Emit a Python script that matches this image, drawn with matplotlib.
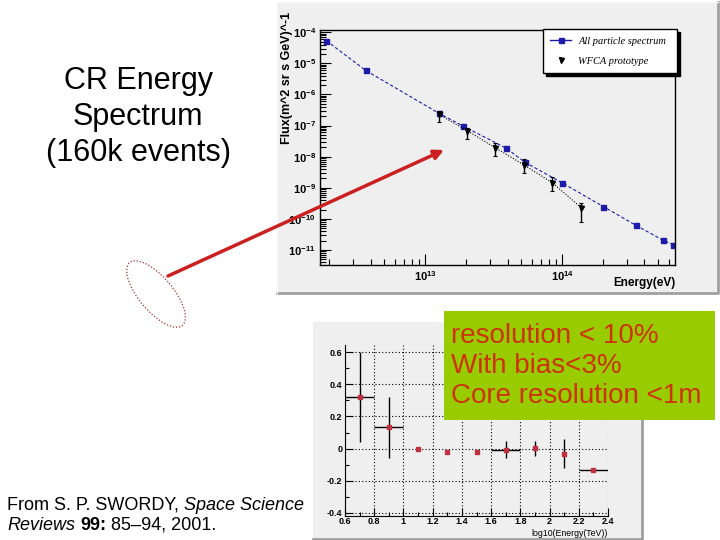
import matplotlib
matplotlib.use('Agg')
import matplotlib.pyplot as plt
import numpy as np
from matplotlib.patches import Rectangle, Ellipse, FancyArrowPatch
from matplotlib.lines import Line2D
from matplotlib.ticker import LogLocator, FuncFormatter, NullFormatter, FixedLocator, MultipleLocator

plt.rcParams['font.family'] = ['Liberation Sans', 'DejaVu Sans']
plt.rcParams['mathtext.fontset'] = 'custom'
plt.rcParams['mathtext.rm'] = 'Liberation Sans'
plt.rcParams['mathtext.it'] = 'Liberation Sans:italic'
plt.rcParams['mathtext.bf'] = 'Liberation Sans:bold'

# ---------------- data ----------------
all_energy = [1.9e12, 3.69e12, 1.26e13, 1.88e13, 3.89e13, 5.37e13, 1.0e14, 2.0e14, 3.47e14, 5.43e14, 6.46e14]
all_flux = [5.37e-5, 5.9e-6, 2.5e-7, 9.8e-8, 1.9e-8, 6.6e-9, 1.45e-9, 2.5e-10, 6.2e-11, 2.1e-11, 1.5e-11]

wfca_energy = [1.26e13, 2.04e13, 3.24e13, 5.25e13, 8.5e13, 1.38e14]
wfca_flux = [2.29e-7, 6.8e-8, 1.95e-8, 5.5e-9, 1.45e-9, 2.3e-10]
wfca_flux_hi = [2.95e-7, 8.5e-8, 2.7e-8, 8.3e-9, 2.3e-9, 3.3e-10]
wfca_flux_lo = [1.29e-7, 3.6e-8, 1.07e-8, 3.1e-9, 8.1e-10, 8.1e-11]

legend_labels = ['All particle spectrum', 'WFCA prototype']

bias_x = [0.7, 0.9, 1.1, 1.3, 1.5, 1.7, 1.9, 2.1, 2.3]
bias_y = [0.322, 0.133, 0.0, -0.02, -0.02, -0.006, 0.002, -0.033, -0.135]
bias_xerr = [0.1, 0.1, 0, 0, 0, 0.1, 0, 0, 0.1]
bias_yerr = [0.28, 0.19, 0, 0, 0, 0.05, 0.048, 0.09, 0]

bias_xticks = [0.6, 0.8, 1.0, 1.2, 1.4, 1.6, 1.8, 2.0, 2.2, 2.4]
bias_xticklabels = ['0.6', '0.8', '1', '1.2', '1.4', '1.6', '1.8', '2', '2.2', '2.4']
bias_yticks = [-0.4, -0.2, 0.0, 0.2, 0.4, 0.6]
bias_yticklabels = ['-0.4', '-0.2', '0', '0.2', '0.4', '0.6']

# ---------------- figure ----------------
fig = plt.figure(figsize=(7.2, 5.4), dpi=100)

bg = fig.add_axes([0, 0, 1, 1], zorder=-10)
bg.set_xlim(0, 720); bg.set_ylim(540, 0); bg.axis('off')
bg.add_patch(Rectangle((277, 2), 441, 291, fc='#EFEFEF', ec='none'))
bg.plot([277, 718, 718], [293, 293, 2], color='#A0A0A0', lw=2)
bg.plot([277, 277, 718], [293, 2, 2], color='#F8F8F8', lw=1)
bg.add_patch(Rectangle((313, 322), 329, 218, fc='#EFEFEF', ec='none'))
bg.plot([313, 642, 642], [539, 539, 322], color='#A0A0A0', lw=2)

# ---- top spectrum panel ----
ax1 = fig.add_axes([320/720, 1-265/540, 355/720, 235/540])
ax1.set_facecolor('none')
ax1.set_xscale('log'); ax1.set_yscale('log')
ax1.plot(all_energy, all_flux, color='#1c1ca8', ls=(0, (3, 2)), lw=0.8,
         marker='s', ms=3.6, mfc='#1c1ca8', mec='#1c1ca8')
ax1.plot(wfca_energy, wfca_flux, color='black', ls=(0, (1, 1.5)), lw=0.8,
         marker='v', ms=3.6)
ax1.errorbar(wfca_energy, wfca_flux,
             yerr=[np.array(wfca_flux) - np.array(wfca_flux_lo), np.array(wfca_flux_hi) - np.array(wfca_flux)],
             fmt='none', ecolor='black', elinewidth=1, capsize=1.5, capthick=0.8)
ax1.set_xlim(1.71e12, 6.68e14)
ax1.set_ylim(3.3e-12, 1.18e-4)
ax1.xaxis.set_major_locator(LogLocator(base=10, numticks=10))
ax1.xaxis.set_minor_locator(LogLocator(base=10, subs=np.arange(2, 10), numticks=20))
ax1.yaxis.set_major_locator(LogLocator(base=10, numticks=20))
ax1.yaxis.set_minor_locator(LogLocator(base=10, subs=np.arange(2, 10), numticks=40))
fmt = FuncFormatter(lambda v, p: r'$\mathbf{10^{%d}}$' % int(round(np.log10(v))))
ax1.xaxis.set_major_formatter(fmt)
ax1.yaxis.set_major_formatter(fmt)
ax1.xaxis.set_minor_formatter(NullFormatter())
ax1.yaxis.set_minor_formatter(NullFormatter())
ax1.tick_params(which='both', direction='in', top=False, right=False, labelsize=8, width=0.8)
ax1.tick_params(which='major', length=8, pad=3)
ax1.tick_params(which='minor', length=4)
for s in ax1.spines.values():
    s.set_linewidth(1)
ax1.set_xlabel('Energy(eV)', fontsize=8.5, fontweight='bold', ha='right', va='top')
ax1.xaxis.set_label_coords(1.0, -(277-265)/235)
ax1.set_ylabel('Flux(m^2 sr s GeV)^-1', fontsize=9, fontweight='bold')
ax1.yaxis.set_label_coords(-0.075, 0.796)

handles = [Line2D([], [], color='#1c1ca8', lw=1, marker='s', ms=3.6),
           Line2D([], [], color='black', ls='none', marker='v', ms=3.6)]
leg = ax1.legend(handles, legend_labels, loc='upper left',
                 bbox_to_anchor=(0.628, 0.809, 0.378, 0.195), mode='expand',
                 borderaxespad=0, prop={'family': 'Liberation Serif', 'style': 'italic', 'size': 7.5},
                 frameon=True, fancybox=False, edgecolor='black', facecolor='white', framealpha=1,
                 shadow={'color': 'black', 'alpha': 1}, handlelength=2.0, handletextpad=0.7,
                 borderpad=0.7, labelspacing=1.05)
leg.get_frame().set_linewidth(1)

# ---- bottom bias panel ----
ax2 = fig.add_axes([345/720, 1-516/540, 263/720, 171/540])
ax2.set_facecolor('none')
ax2.errorbar(bias_x, bias_y, xerr=bias_xerr, yerr=bias_yerr, fmt='s', ms=2.4,
             mfc='#c03040', mec='#c03040', ecolor='black', elinewidth=1, capsize=0)
ax2.set_xlim(0.6, 2.4)
ax2.set_ylim(-0.42, 0.645)
ax2.xaxis.set_major_locator(FixedLocator(bias_xticks))
ax2.set_xticklabels(bias_xticklabels)
ax2.yaxis.set_major_locator(FixedLocator(bias_yticks))
ax2.set_yticklabels(bias_yticklabels)
ax2.xaxis.set_minor_locator(MultipleLocator(0.1))
ax2.yaxis.set_minor_locator(MultipleLocator(0.1))
ax2.tick_params(which='both', direction='in', top=False, right=False, labelsize=6.5, width=0.8)
ax2.tick_params(which='major', length=6)
ax2.tick_params(axis='x', which='major', pad=1)
ax2.tick_params(axis='y', which='major', pad=2)
ax2.tick_params(which='minor', length=3)
for lbl in ax2.get_xticklabels() + ax2.get_yticklabels():
    lbl.set_fontweight('bold')
ax2.spines['top'].set_visible(False)
ax2.spines['right'].set_visible(False)
ax2.grid(True, which='major', ls=(0, (1, 2)), color='black', lw=0.8)
ax2.set_xlabel('log10(Energy(TeV))', fontsize=6.3, ha='right', va='top')
ax2.xaxis.set_label_coords(1.0, -(528.5-516)/171)

# ---- overlay: annotations ----
ov = fig.add_axes([0, 0, 1, 1], zorder=10)
ov.set_xlim(0, 720); ov.set_ylim(540, 0); ov.axis('off')
ov.set_facecolor('none')

ov.text(138, 117, 'CR Energy\nSpectrum\n(160k events)', ha='center', va='center',
        fontsize=22, linespacing=1.27, multialignment='center', color='black')

ov.add_patch(FancyArrowPatch((168, 276), (444, 150), arrowstyle='-|>', mutation_scale=14,
                             color='#cc2020', lw=2.5, shrinkA=0, shrinkB=0))
ov.add_patch(Ellipse((156, 294), 82, 34, angle=50, fill=False, ec='#b03030',
                     ls=(0, (1, 1.5)), lw=0.9))

ov.add_patch(Rectangle((444, 311), 271, 109, fc='#99cc00', ec='none'))
ov.text(451, 366, 'resolution < 10%\nWith bias<3%\nCore resolution <1m', ha='left', va='center',
        fontsize=20, linespacing=1.2, color='#cc3300')

c1 = ov.text(7, 505, 'From S. P. SWORDY,', ha='left', va='center', fontsize=13)
ov.annotate('Space Science', xy=(1, 0), xycoords=c1, xytext=(3.6, 0), textcoords='offset points',
            ha='left', va='bottom', fontsize=13, fontstyle='italic')
c2 = ov.text(7, 525, 'Reviews', ha='left', va='center', fontsize=13, fontstyle='italic')
c3 = ov.annotate('99:', xy=(1, 0), xycoords=c2, xytext=(3.6, 0), textcoords='offset points',
                 ha='left', va='bottom', fontsize=13, fontweight='bold')
ov.annotate('85–94, 2001.', xy=(1, 0), xycoords=c3, xytext=(3.6, 0), textcoords='offset points',
            ha='left', va='bottom', fontsize=13)

fig.savefig('out.png', dpi=100)
